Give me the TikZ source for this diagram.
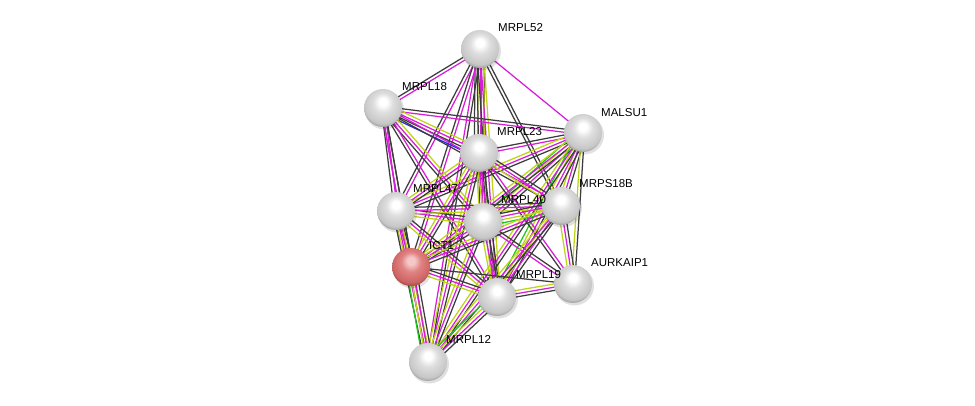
\documentclass[tikz,border=0pt]{standalone}
\usepackage{fontspec}
\setmainfont{Liberation Sans}
\usetikzlibrary{calc}
\definecolor{ek}{RGB}{60,60,60}
\definecolor{em}{RGB}{215,30,215}
\definecolor{ey}{RGB}{190,212,20}
\definecolor{eg}{RGB}{30,200,30}
\definecolor{eb}{RGB}{40,40,240}
\definecolor{rb1}{RGB}{245,200,200}
\definecolor{rb2}{RGB}{225,130,130}
\definecolor{rb3}{RGB}{205,100,100}
\definecolor{rb4}{RGB}{150,50,50}
\pgfdeclareradialshading{strball}{\pgfpoint{0bp}{9bp}}{color(0bp)=(white); color(5bp)=(white); color(13bp)=(black!13); color(25bp)=(black!22); color(31bp)=(black!45); color(35bp)=(black!52); color(50bp)=(black!52)}
\pgfdeclareradialshading{strred}{\pgfpoint{0bp}{9bp}}{color(0bp)=(rb1); color(5bp)=(rb1); color(13bp)=(rb2); color(25bp)=(rb3); color(31bp)=(rb4); color(50bp)=(rb4)}
\tikzset{
  ball/.style={circle, minimum size=38pt, inner sep=0pt, shading=strball},
  redball/.style={circle, minimum size=38pt, inner sep=0pt, shading=strred},
  shadowball/.style={circle, minimum size=39pt, inner sep=0pt, fill=black, opacity=0.12},
  lbl/.style={anchor=west, inner sep=0pt, font=\fontsize{11.5}{13}\selectfont},
  edge/.style={line width=1.25pt}
}
\newcommand\stredge[3]{%
  \foreach \c [count=\i] in {#3} {\xdef\nn{\i}}%
  \foreach \c [count=\i] in {#3} {%
    \pgfmathsetmacro\off{(\i-(\nn+1)/2)*3.2}%
    \draw[edge,\c] ($(#1)!\off pt!90:(#2)$) -- ($(#2)!\off pt!-90:(#1)$);
  }}
\begin{document}
\begin{tikzpicture}[x=1pt,y=-1pt]
\useasboundingbox[fill=white] (0,0) rectangle (975,406);
\coordinate (A) at (480,49);
\coordinate (B) at (383,108);
\coordinate (C) at (583,133);
\coordinate (D) at (479,153);
\coordinate (E) at (396,211);
\coordinate (F) at (483,222);
\coordinate (G) at (561,206);
\coordinate (H) at (411,267);
\coordinate (I) at (573,284);
\coordinate (J) at (497,297);
\coordinate (K) at (428,362);
% edges
\stredge{A}{B}{ek,em}
\stredge{A}{C}{em}
\stredge{A}{D}{ek,ey,em,ek}
\stredge{A}{E}{ek,em}
\stredge{A}{F}{ek,em,ey}
\stredge{A}{G}{ek,ek}
\stredge{A}{H}{ek,em}
\stredge{A}{J}{ek,em,ey}
\stredge{A}{K}{em,ek}
\stredge{B}{C}{em,ek}
\stredge{B}{D}{eb,ek,em,ey}
\stredge{B}{E}{ek,em}
\stredge{B}{F}{ek,em,ey}
\stredge{B}{G}{ek,em}
\stredge{B}{H}{em,ek}
\stredge{B}{J}{ek,em}
\stredge{B}{K}{em,ek}
\stredge{C}{D}{ek,em}
\stredge{C}{E}{ey,em,ek}
\stredge{C}{F}{eg,ey,em,ek}
\stredge{C}{G}{ey,em,ek}
\stredge{C}{H}{ey,em,ek}
\stredge{C}{I}{ey,ek}
\stredge{C}{J}{eg,ey,em,ek}
\stredge{C}{K}{ey,em,ek}
\stredge{D}{E}{ey,em,ek}
\stredge{D}{F}{ey,em,ek}
\stredge{D}{G}{ey,em,ek}
\stredge{D}{H}{ey,em,ek}
\stredge{D}{I}{ek,em}
\stredge{D}{J}{ey,em,ek}
\stredge{D}{K}{ey,em,ek}
\stredge{E}{F}{ey,em,ek}
\stredge{E}{G}{ey,em,ek}
\stredge{E}{H}{ey,em,ek}
\stredge{E}{J}{ey,em,ek}
\stredge{E}{K}{ek,em,ey}
\stredge{F}{G}{eg,ey,em,ek}
\stredge{F}{H}{ey,em,ek}
\stredge{F}{I}{em,ek}
\stredge{F}{J}{ey,em,ek}
\stredge{F}{K}{ey,em,ek}
\stredge{G}{H}{ey,em,ek}
\stredge{G}{I}{ey,em,ek}
\stredge{G}{J}{ey,em,ek}
\stredge{G}{K}{ey,em,ek}
\stredge{H}{I}{ek}
\stredge{H}{J}{ey,em,ek}
\stredge{H}{K}{eg,ey,em,ek}
\stredge{I}{J}{ey,em,ek}
\stredge{J}{K}{eg,ey,em,ek}
% shadows
\foreach \p in {A,B,C,D,E,F,G,H,I,J,K}
  \node[shadowball] (s\p) at ($(\p)+(1.5,2)$) {};
% nodes
\node[ball] (nA) at (A) {};
\node[ball] (nB) at (B) {};
\node[ball] (nC) at (C) {};
\node[ball] (nD) at (D) {};
\node[ball] (nE) at (E) {};
\node[ball] (nF) at (F) {};
\node[ball] (nG) at (G) {};
\node[redball] (nH) at (H) {};
\node[ball] (nI) at (I) {};
\node[ball] (nJ) at (J) {};
\node[ball] (nK) at (K) {};
% labels
\node[lbl] (lA) at (498,28) {MRPL52};
\node[lbl] (lB) at (402,87) {MRPL18};
\node[lbl] (lC) at (601,113) {MALSU1};
\node[lbl] (lD) at (497,132) {MRPL23};
\node[lbl] (lE) at (413,189) {MRPL47};
\node[lbl] (lF) at (501,200) {MRPL40};
\node[lbl] (lG) at (579,184) {MRPS18B};
\node[lbl] (lH) at (429,246) {ICT1};
\node[lbl] (lI) at (591,263) {AURKAIP1};
\node[lbl] (lJ) at (516,275) {MRPL19};
\node[lbl] (lK) at (446,339) {MRPL12};
\end{tikzpicture}
\end{document}
